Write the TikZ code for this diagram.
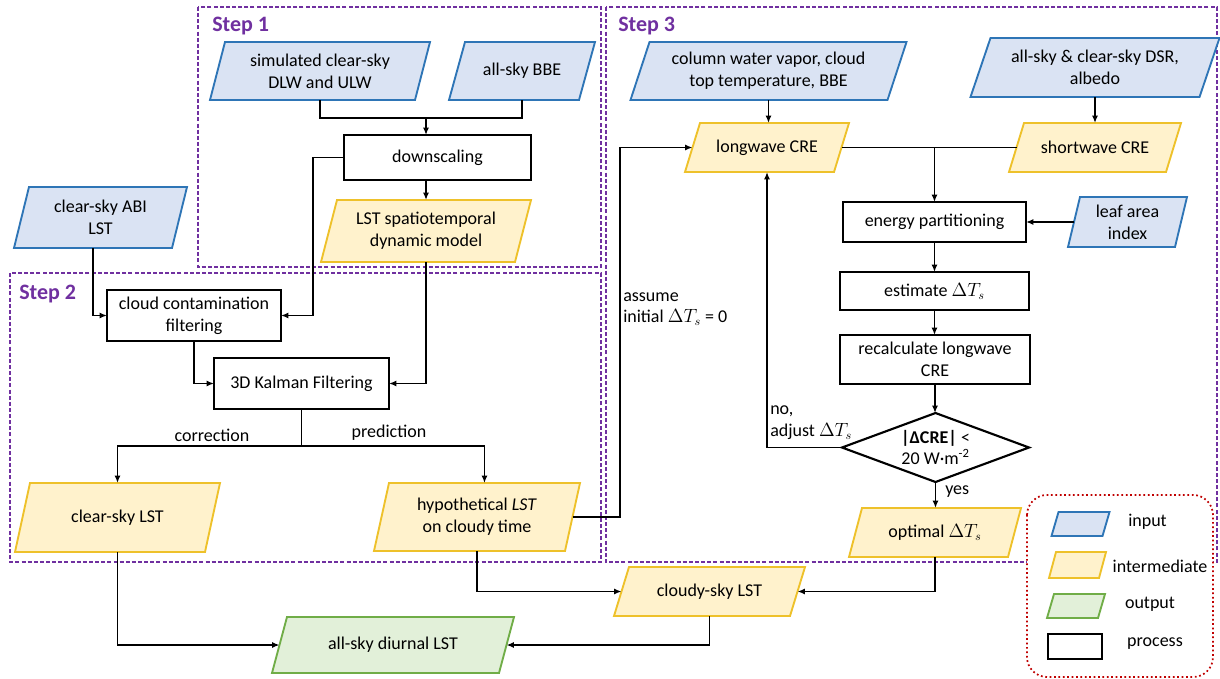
\documentclass[tikz,border=0pt]{standalone}
\usepackage{fontspec}
\setmainfont{Carlito}
\usetikzlibrary{arrows.meta,shapes.geometric,backgrounds,calc}
\definecolor{inline}{HTML}{2E75B6}
\definecolor{infill}{HTML}{DAE3F3}
\definecolor{imline}{HTML}{EEC12A}
\definecolor{imfill}{HTML}{FFF2CC}
\definecolor{outline}{HTML}{70AD47}
\definecolor{outfill}{HTML}{E2F0D9}
\definecolor{stepc}{HTML}{7030A0}
\definecolor{legred}{HTML}{C00000}
\newcommand\pu[1]{#1*0.75pt}
\tikzset{
  txt/.style={inner sep=0pt, outer sep=0pt, align=center, font=\fontsize{13.5}{16.3}\selectfont},
  proc/.style={txt, draw=black, line width=1.6pt},
  bluepar/.style={fill=infill, draw=inline, line width=1.4pt},
  yelpar/.style={fill=imfill, draw=imline, line width=1.4pt},
  grnpar/.style={fill=outfill, draw=outline, line width=1.4pt},
  conn/.style={line width=1.1pt, draw=black},
  arr/.style={conn, -{Latex[length=5.5pt,width=4.5pt]}},
  steplbl/.style={inner sep=0pt, anchor=west, text=stepc, font=\fontsize{16.5}{19}\selectfont\bfseries},
  stepbox/.style={draw=stepc, line width=1.1pt, dash pattern=on 3pt off 1.6pt},
  lbl/.style={inner sep=0pt, font=\fontsize{13.5}{16.3}\selectfont},
}
\newcommand\para[8]{%
  \node[txt, minimum width={\pu{#4}}, minimum height={\pu{#5}}] (#1) at (#2,#3) {#8};
  \begin{scope}[on background layer]
    \filldraw[#7] ([xshift={-#6*0.375pt}]#1.south west) -- ([xshift={-#6*0.375pt}]#1.south east)
      -- ([xshift={#6*0.375pt}]#1.north east) -- ([xshift={#6*0.375pt}]#1.north west) -- cycle;
  \end{scope}}
\begin{document}
\begin{tikzpicture}[x=0.75pt, y=-0.75pt]
\useasboundingbox (0,0) rectangle (1220,678);
\begin{scope}[on background layer]
  \fill[white] (0,0) rectangle (1220,678);
  \draw[stepbox] (198,7) rectangle (601,267);
  \draw[stepbox] (10,273) rectangle (601,562);
  \draw[stepbox] (606,7) rectangle (1217,562);
  \filldraw[fill=white, draw=legred, line width=1.3pt, dotted, rounded corners=15pt] (1027,495) rectangle (1213,677);
\end{scope}
\node[steplbl] at (212,26) {Step 1};
\node[steplbl] at (19,294) {Step 2};
\node[steplbl] at (618,26) {Step 3};
% Step 1
\para{sim}{320}{71}{205}{58}{15}{bluepar}{simulated clear-sky\\DLW and ULW}
\para{bbe}{522}{71}{130}{58}{16}{bluepar}{all-sky BBE}
\para{abi}{100.5}{217.5}{158}{61}{15}{bluepar}{clear-sky ABI\\LST}
\para{lstm}{426}{231}{194}{62}{16}{yelpar}{LST spatiotemporal\\dynamic model}
\node[proc, minimum width={\pu{187}}, minimum height={\pu{45}}] (down) at (437.5,157.5) {downscaling};
% Step 2
\node[proc, minimum width={\pu{174}}, minimum height={\pu{51}}] (cloud) at (194,315.5) {cloud contamination\\filtering};
\node[proc, minimum width={\pu{175}}, minimum height={\pu{51}}] (kal) at (301.5,383.5) {3D Kalman Filtering};
\para{clr}{117.5}{517.5}{190}{69}{15}{yelpar}{clear-sky LST}
\para{hyp}{477}{517}{191}{68}{15}{yelpar}{hypothetical \textit{LST}\\on cloudy time}
\para{asd}{393}{645}{227}{56}{15}{grnpar}{all-sky diurnal LST}
\para{cs}{709.5}{591.5}{176}{49}{15}{yelpar}{cloudy-sky LST}
% Step 3
\para{col}{768.5}{71}{257}{58}{19}{bluepar}{column water vapor, cloud\\top temperature, BBE}
\para{dsr}{1095}{67.5}{229}{59}{20}{bluepar}{all-sky \& clear-sky DSR,\\albedo}
\para{lw}{767}{147.5}{149}{49}{15}{yelpar}{longwave CRE}
\para{sw}{1095}{147.5}{157}{49}{15}{yelpar}{shortwave CRE}
\node[proc, minimum width={\pu{183}}, minimum height={\pu{40}}] (ep) at (934.5,222) {energy partitioning};
\para{lai}{1127.5}{222}{107}{50}{12}{bluepar}{leaf area\\index}
\node[proc, minimum width={\pu{189}}, minimum height={\pu{38}}] (est) at (934.5,291) {estimate $\Delta T_s$};
\node[proc, minimum width={\pu{190}}, minimum height={\pu{49}}] (rec) at (935,359.5) {recalculate longwave\\CRE};
\node[diamond, draw=black, line width=1.6pt, inner sep=0pt, outer sep=0pt, minimum width={\pu{187}}, minimum height={\pu{69}}] (dia) at (935.5,447.5) {};
\node[txt] (diat) at (dia.center) {\textbf{|ΔCRE|} <\\20 W·m\textsuperscript{-2}};
\para{opt}{935}{532.5}{159}{49}{13}{yelpar}{optimal $\Delta T_s$}
% legend
\para{lin}{1080.5}{524}{51}{24}{7}{bluepar}{}
\para{lim}{1077.5}{565}{50}{26}{7}{yelpar}{}
\para{lout}{1076}{606}{51}{24}{7}{grnpar}{}
\node[proc, minimum width={\pu{54}}, minimum height={\pu{25}}] (lproc) at (1075,646.5) {};
\node[lbl] (tin) at (1147.5,522) {input};
\node[lbl] (tim) at (1160,566) {intermediate};
\node[lbl] (tout) at (1150,604) {output};
\node[lbl] (tproc) at (1155,644) {process};
% connectors step 1
\coordinate (j1) at (lstm.north |- 0,118);
\draw[conn] (sim.south) |- (j1);
\draw[conn] (bbe.south) |- (j1);
\draw[arr] (j1) -- (down.north -| j1);
\draw[arr] (down.south -| lstm.north) -- (lstm.north);
\draw[arr] (down.west) -- ++(-31,0) |- (cloud.east);
\draw[arr] ([xshift=-5.6pt]abi.south) |- (cloud.west);
% step 2
\draw[arr] (cloud.south) |- (kal.west);
\draw[arr] (lstm.south) |- (kal.east);
\draw[conn] (kal.south) -- ++(0,37) coordinate (j2);
\draw[arr] (j2) -| (clr.north);
\draw[arr] (j2) -| ([xshift=5.6pt]hyp.north);
\node[lbl] (tcor) at (212,435) {correction};
\node[lbl] (tpred) at (389,433) {prediction};
\draw[arr] (clr.south) |- (asd.west);
\draw[arr] (hyp.south) |- (cs.west);
\draw[arr] (opt.south) |- (cs.east);
\draw[arr] (cs.south) |- (asd.east);
% step 3
\draw[arr] (col.south) -- (col.south |- lw.north);
\draw[arr] (dsr.south) -- (sw.north);
\draw[conn] (lw.east) -- (sw.west);
\draw[arr] (ep.north |- lw.east) -- (ep.north);
\draw[arr] (lai.west) -- (ep.east);
\draw[arr] (ep.south) -- (est.north -| ep.south);
\draw[arr] (est.south) -- (rec.north -| est.south);
\draw[arr] (rec.south) -- (dia.north -| rec.south);
\draw[arr] (dia.south) -- (opt.north -| dia.south);
\draw[arr] (dia.west) -| (lw.south);
\draw[arr] (hyp.east) -- ++(47.5,0) |- (lw.west);
\node[lbl, anchor=west, align=left] (tassume) at (623,309) {assume\\initial $\Delta T_s$ = 0};
\node[lbl, anchor=west, align=left] (tno) at (770,422.5) {no,\\adjust $\Delta T_s$};
\node[lbl, anchor=west] (tyes) at (945,492) {yes};
\end{tikzpicture}
\end{document}
